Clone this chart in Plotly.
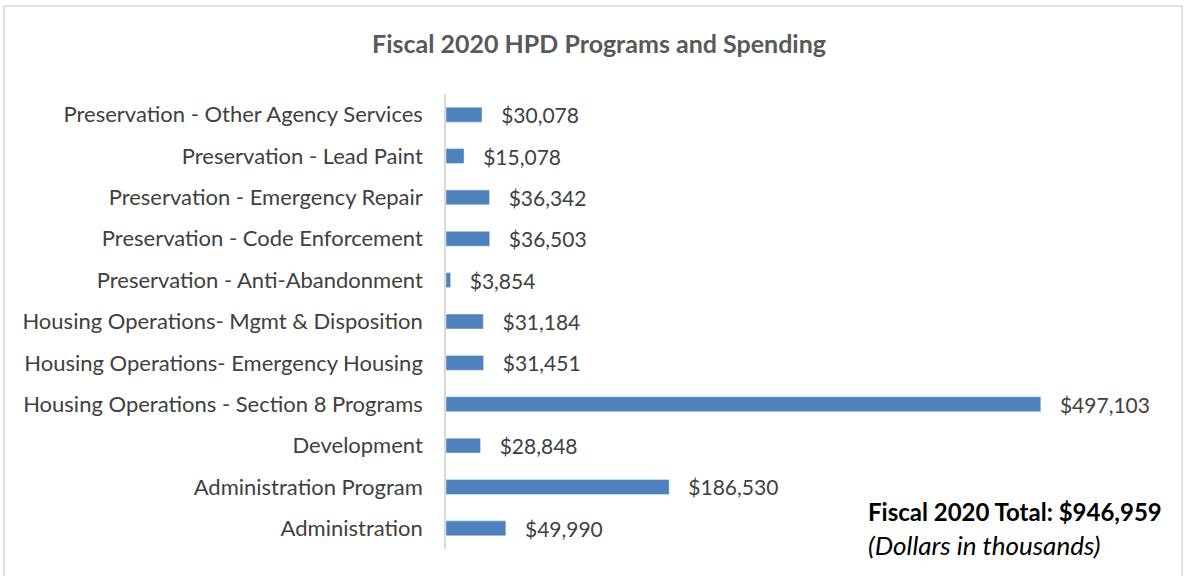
import plotly.graph_objects as go

categories = [
    "Administration",
    "Administration Program",
    "Development",
    "Housing Operations - Section 8 Programs",
    "Housing Operations- Emergency Housing",
    "Housing Operations- Mgmt & Disposition",
    "Preservation - Anti-Abandonment",
    "Preservation - Code Enforcement",
    "Preservation - Emergency Repair",
    "Preservation - Lead Paint",
    "Preservation - Other Agency Services",
]
spending = [49990, 186530, 28848, 497103, 31451, 31184, 3854, 36503, 36342, 15078, 30078]
total = 946959

W, H = 1185, 576
ml, mr, mt, mb = 446, 45, 94, 27
xmax = 580000

font = "Lato, Carlito, Calibri, sans-serif"

fig = go.Figure(go.Bar(
    y=categories,
    x=spending,
    orientation="h",
    marker=dict(color="#4F81BD"),
    text=["   $" + f"{v:,}" for v in spending],
    textposition="outside",
    constraintext="none",
    textfont=dict(color="#404040", size=21, family=font),
    cliponaxis=False,
))

pw = W - ml - mr
ph = H - mt - mb


def px_x(x):
    return (x - ml) / pw


def px_y(y):
    return (H - mb - y) / ph


fig.update_layout(
    width=W, height=H,
    margin=dict(l=ml, r=mr, t=mt, b=mb),
    plot_bgcolor="white",
    paper_bgcolor="white",
    bargap=0.64,
    showlegend=False,
    title=dict(text="<b>Fiscal 2020 HPD Programs and Spending</b>",
               x=599 / W, xanchor="center", y=1 - 44 / H, yanchor="middle",
               font=dict(size=25, color="#595959", family=font)),
    xaxis=dict(range=[0, xmax], visible=False, fixedrange=True),
    yaxis=dict(showline=True, linecolor="#D9D9D9", linewidth=1.5,
               ticks="", ticklabelstandoff=17, fixedrange=True,
               tickfont=dict(size=22, color="#404040", family=font)),
    shapes=[dict(type="rect", xref="paper", yref="paper",
                 x0=px_x(4), x1=px_x(1182), y0=px_y(590), y1=px_y(6),
                 line=dict(color="#D9D9D9", width=1.5))],
    annotations=[
        dict(text="<b>Fiscal 2020 Total: $946,959</b>", xref="paper", yref="paper",
             x=px_x(866), y=px_y(511), xanchor="left", yanchor="middle",
             showarrow=False, font=dict(size=24, color="black", family=font)),
        dict(text="<i>(Dollars in thousands)</i>", xref="paper", yref="paper",
             x=px_x(866), y=px_y(545), xanchor="left", yanchor="middle",
             showarrow=False, font=dict(size=26, color="black", family=font)),
    ],
)

# drop the page's default body margin so the figure sits at the window's corner
fig.write_html("out.html", config=dict(displayModeBar=False),
               post_script="document.body.style.margin='0';")
